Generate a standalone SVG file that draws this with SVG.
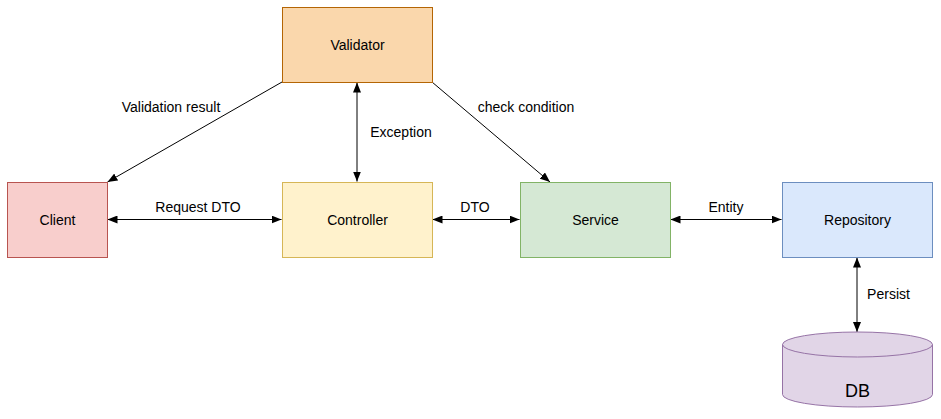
<svg xmlns="http://www.w3.org/2000/svg" width="941" height="419" viewBox="0 0 941 419">
<style>
text{font-family:"Liberation Sans",Arial,sans-serif;font-size:14px;fill:#000;text-anchor:middle;dominant-baseline:central}
.e{stroke:#000;stroke-width:1;fill:none}
</style>
<defs>
<marker id="a" viewBox="0 0 10 8" refX="10" refY="4" markerWidth="10" markerHeight="8" markerUnits="userSpaceOnUse" orient="auto-start-reverse">
<path d="M0,0 L10,4 L0,8 z" fill="#000"/>
</marker>
</defs>
<rect width="941" height="419" fill="#fff"/>
<g id="connectors">
<line class="e" x1="282" y1="82" x2="107.5" y2="182" marker-end="url(#a)"/>
<line class="e" x1="357" y1="82.5" x2="357" y2="181.5" marker-start="url(#a)" marker-end="url(#a)"/>
<line class="e" x1="432" y1="82" x2="550" y2="182" marker-end="url(#a)"/>
<line class="e" x1="107.5" y1="219.5" x2="281.5" y2="219.5" marker-start="url(#a)" marker-end="url(#a)"/>
<line class="e" x1="432.5" y1="219.5" x2="519.5" y2="219.5" marker-start="url(#a)" marker-end="url(#a)"/>
<line class="e" x1="670.5" y1="219.5" x2="781.5" y2="219.5" marker-start="url(#a)" marker-end="url(#a)"/>
<line class="e" x1="857" y1="257.5" x2="857" y2="332" marker-start="url(#a)" marker-end="url(#a)"/>
<text x="171" y="107">Validation result</text>
<text x="401" y="132">Exception</text>
<text x="526" y="107">check condition</text>
<text x="198" y="207">Request DTO</text>
<text x="475" y="207">DTO</text>
<text x="726" y="207">Entity</text>
<text x="888.5" y="294">Persist</text>
</g>
<g id="validator">
<rect x="282.5" y="7.5" width="150" height="75" fill="#fad7ac" stroke="#b46504"/>
<text x="357.5" y="44.5">Validator</text>
</g>
<g id="client">
<rect x="7.5" y="182.5" width="100" height="75" fill="#f8cecc" stroke="#b85450"/>
<text x="57.5" y="219.5">Client</text>
</g>
<g id="controller">
<rect x="282.5" y="182.5" width="150" height="75" fill="#fff2cc" stroke="#d6b656"/>
<text x="357.5" y="219.5">Controller</text>
</g>
<g id="service">
<rect x="520.5" y="182.5" width="150" height="75" fill="#d5e8d4" stroke="#82b366"/>
<text x="595.5" y="219.5">Service</text>
</g>
<g id="repository">
<rect x="782.5" y="182.5" width="150" height="75" fill="#dae8fc" stroke="#6c8ebf"/>
<text x="857.5" y="219.5">Repository</text>
</g>
<g id="db">
<path d="M782.5,344.5 A75,12.5 0 0 1 932.5,344.5 L932.5,394.5 A75,12.5 0 0 1 782.5,394.5 Z" fill="#e1d5e7" stroke="#9673a6"/>
<path d="M782.5,344.5 A75,12.5 0 0 0 932.5,344.5" fill="none" stroke="#9673a6"/>
<text x="857.5" y="391" style="font-size:18px">DB</text>
</g>
</svg>
